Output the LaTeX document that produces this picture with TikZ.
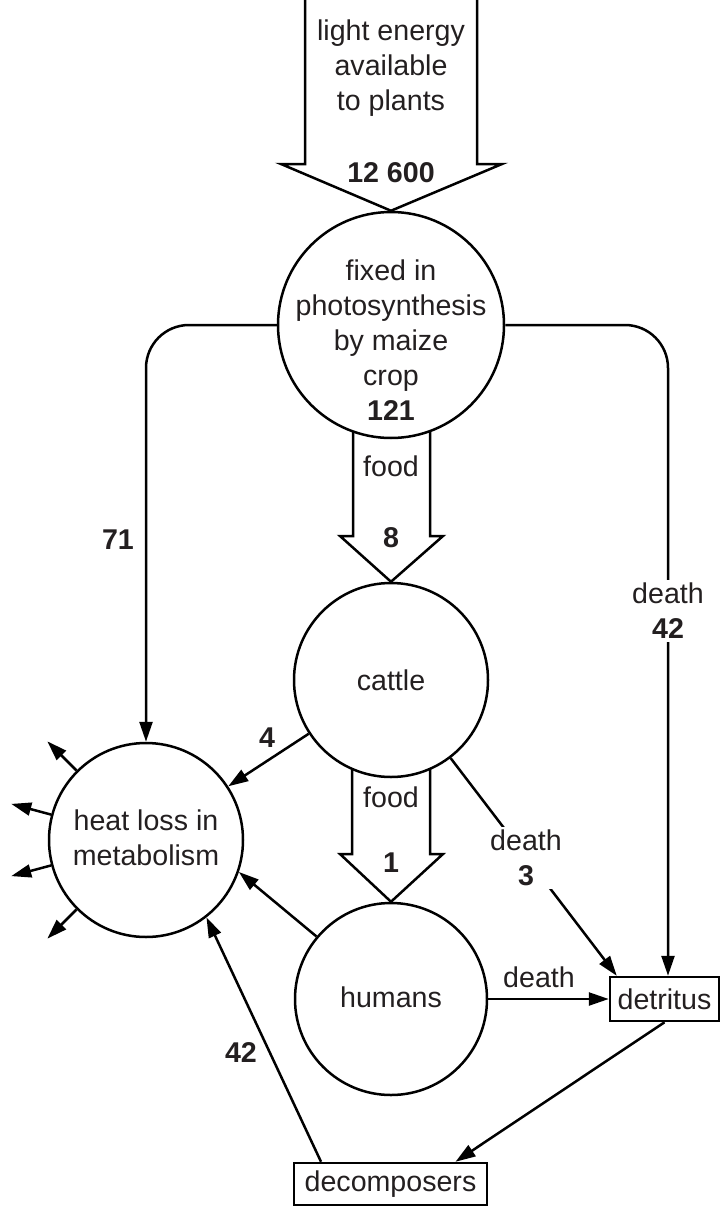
\documentclass[tikz,border=0pt]{standalone}
\usepackage{fontspec}
\setmainfont{Liberation Sans}
\usetikzlibrary{arrows.meta,calc}
\definecolor{txt}{RGB}{35,31,32}
\begin{document}
\begin{tikzpicture}[x=1pt,y=-1pt,
  every node/.style={font=\fontsize{28.6}{35}\selectfont, text=txt},
  ln/.style={line width=2.5pt, line join=miter},
  conn/.style={ln, -{Triangle[length=20pt,width=13pt]}},
  circ/.style={draw, circle, line width=2.5pt, inner sep=0pt},
  boxn/.style={draw, rectangle, line width=2.5pt, inner sep=0pt},
  lbl/.style={align=center, inner sep=3pt},
  num/.style={font=\fontsize{28.6}{35}\selectfont\bfseries}
]
\useasboundingbox (0,0) rectangle (721,1207);

% main nodes
\node[circ, minimum size=226pt] (maize) at (391,325) {};
\node[circ, minimum size=194pt] (cattle) at (391,680) {};
\node[circ, minimum size=192pt] (humans) at (391,999) {};
\node[circ, minimum size=194pt] (heat) at (146,840) {};
\node[boxn, minimum width=109pt, minimum height=44pt] (detritus) at (664.5,999) {detritus};
\node[boxn, minimum width=193pt, minimum height=42pt] (decomp) at (390.5,1184) {decomposers};

% texts
\node[lbl] (tlight) at (391,68) {light energy\\available\\to plants};
\node[num] (t12600) at (391,173) {12 600};
\node[lbl] (tmaize) at (391,340) {fixed in\\photosynthesis\\by maize\\crop\\\textbf{121}};
\node (tfood1) at (391,466) {food};
\node[num] (t8) at (391,538) {8};
\node (tcattle) at (391,680) {cattle};
\node (tfood2) at (391,797) {food};
\node[num] (t1) at (391,863) {1};
\node (thumans) at (391,997) {humans};
\node[lbl] (theat) at (146,838) {heat loss in\\metabolism};
\node[num] (t71) at (118,540) {71};
\node[num] (t4) at (267,738) {4};
\node[num] (t42b) at (241,1053) {42};

% block arrows
\draw[ln] (305,0) -- (305,164) -- (281,164) -- (maize.north) -- (502,164) -- (477,164) -- (477,0);
\draw[ln] (353,431.5) -- (353,536) -- (340,536) -- (cattle.north) -- (443,536) -- (430,536) -- (430,431.5);
\draw[ln] (352,769) -- (352,854) -- (340,854) -- (humans.north) -- (443,854) -- (430,854) -- (430,769);

% connectors
\draw[conn, rounded corners=43pt] (maize.west) -| (heat.north);
\draw[conn, rounded corners=43pt] (maize.east) -| ([xshift=3.5pt]detritus.north);
\node[lbl, fill=white] (tdeath42) at (668,611) {death\\\textbf{42}};

\draw[conn] (cattle) -- (heat);
\draw[conn] (cattle) -- ([xshift=8pt]detritus.north west);
\node[lbl, fill=white] (tdeath3) at (526,858) {death\\\textbf{3}};

\draw[conn] (humans) -- (detritus);
\node (tdeathh) at (539,977) {death};

\draw[conn] (humans.140) -- (heat.-19);
\draw[conn] (detritus.south) -- ([xshift=65pt]decomp.north);
\draw[conn] ([xshift=-69.5pt]decomp.north) -- (heat.-52);

\foreach \a in {135,165,195,225}
  \draw[conn] (heat.\a) -- ($(heat.center)!1.42!(heat.\a)$);
\end{tikzpicture}
\end{document}
